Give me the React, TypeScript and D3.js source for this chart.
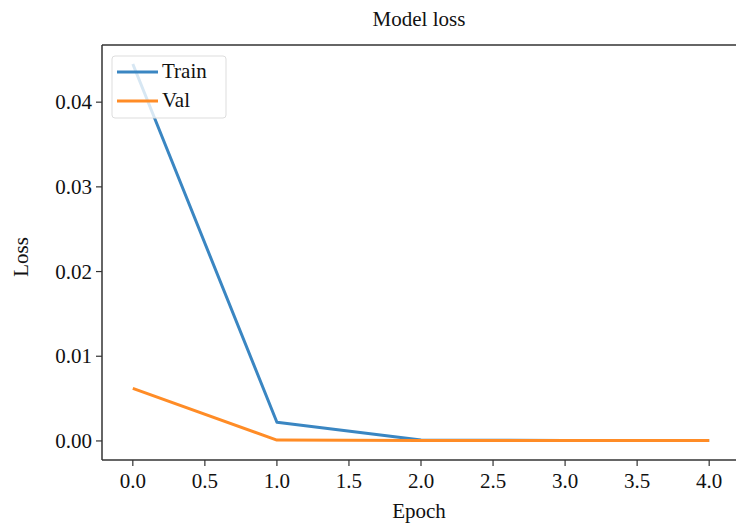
import React from "react";
import * as d3 from "d3";

const epochs = [0, 1, 2, 3, 4];
const trainLoss = [0.0445, 0.0022, 0.0001, 0.00005, 0.00004];
const valLoss = [0.0062, 0.0001, 0.00005, 0.00004, 0.00004];
const xTicks = [0, 0.5, 1, 1.5, 2, 2.5, 3, 3.5, 4];
const yTicks = [0, 0.01, 0.02, 0.03, 0.04];
const seriesNames = ["Train", "Val"];
const colors = ["#3a86c2", "#ff8c26"];

export default function App() {
  const W = 736, H = 526;
  const left = 102, right = 738, top = 45, bottom = 460;
  const x = d3.scaleLinear().domain([-0.2, 4.2]).range([left + 2, right]);
  const y = d3.scaleLinear().domain([-0.00225, 0.04675]).range([bottom, top]);
  const line = d3.line<number>().x((_, i) => x(epochs[i])).y((d) => y(d));
  const font = "'Liberation Serif', 'DejaVu Serif', serif";
  const series = [trainLoss, valLoss];
  const fs = 21;
  return (
    <svg width={W} height={H} style={{ position: "absolute", left: 0, top: 0, background: "#fff" }} fontFamily={font}>
      <rect x={0} y={0} width={W} height={H} fill="#fff" />
      {series.map((s, i) => (
        <path key={i} d={line(s) || ""} fill="none" stroke={colors[i]} strokeWidth={3} strokeLinejoin="round" />
      ))}
      {/* spines */}
      <line x1={left} x2={right} y1={top} y2={top} stroke="#333" strokeWidth={1.5} />
      <line x1={left} x2={left} y1={top} y2={bottom} stroke="#333" strokeWidth={1.5} />
      <line x1={left} x2={right} y1={bottom} y2={bottom} stroke="#333" strokeWidth={1.5} />
      {xTicks.map((t) => (
        <g key={t}>
          <line x1={x(t)} x2={x(t)} y1={bottom} y2={bottom + 6} stroke="#333" strokeWidth={1.2} />
          <text x={x(t)} y={bottom + 28} textAnchor="middle" fontSize={fs} fill="#111">{t.toFixed(1)}</text>
        </g>
      ))}
      {yTicks.map((t) => (
        <g key={t}>
          <line x1={left - 6} x2={left} y1={y(t)} y2={y(t)} stroke="#333" strokeWidth={1.2} />
          <text x={left - 10} y={y(t) + 7} textAnchor="end" fontSize={fs} fill="#111">{t.toFixed(2)}</text>
        </g>
      ))}
      <text x={419} y={26} textAnchor="middle" fontSize={fs} fill="#111">Model loss</text>
      <text x={419} y={518} textAnchor="middle" fontSize={fs} fill="#111">Epoch</text>
      <text transform="translate(28,257) rotate(-90)" textAnchor="middle" fontSize={fs} fill="#111">Loss</text>
      {/* legend */}
      <rect x={112} y={56} width={114} height={62} rx={3} fill="#fff" fillOpacity={0.8} stroke="#ddd" strokeWidth={1} />
      {seriesNames.map((n, i) => (
        <g key={n}>
          <line x1={117} x2={158} y1={72 + i * 29} y2={72 + i * 29} stroke={colors[i]} strokeWidth={3} />
          <text x={162} y={78 + i * 29} fontSize={fs} fill="#111">{n}</text>
        </g>
      ))}
    </svg>
  );
}
